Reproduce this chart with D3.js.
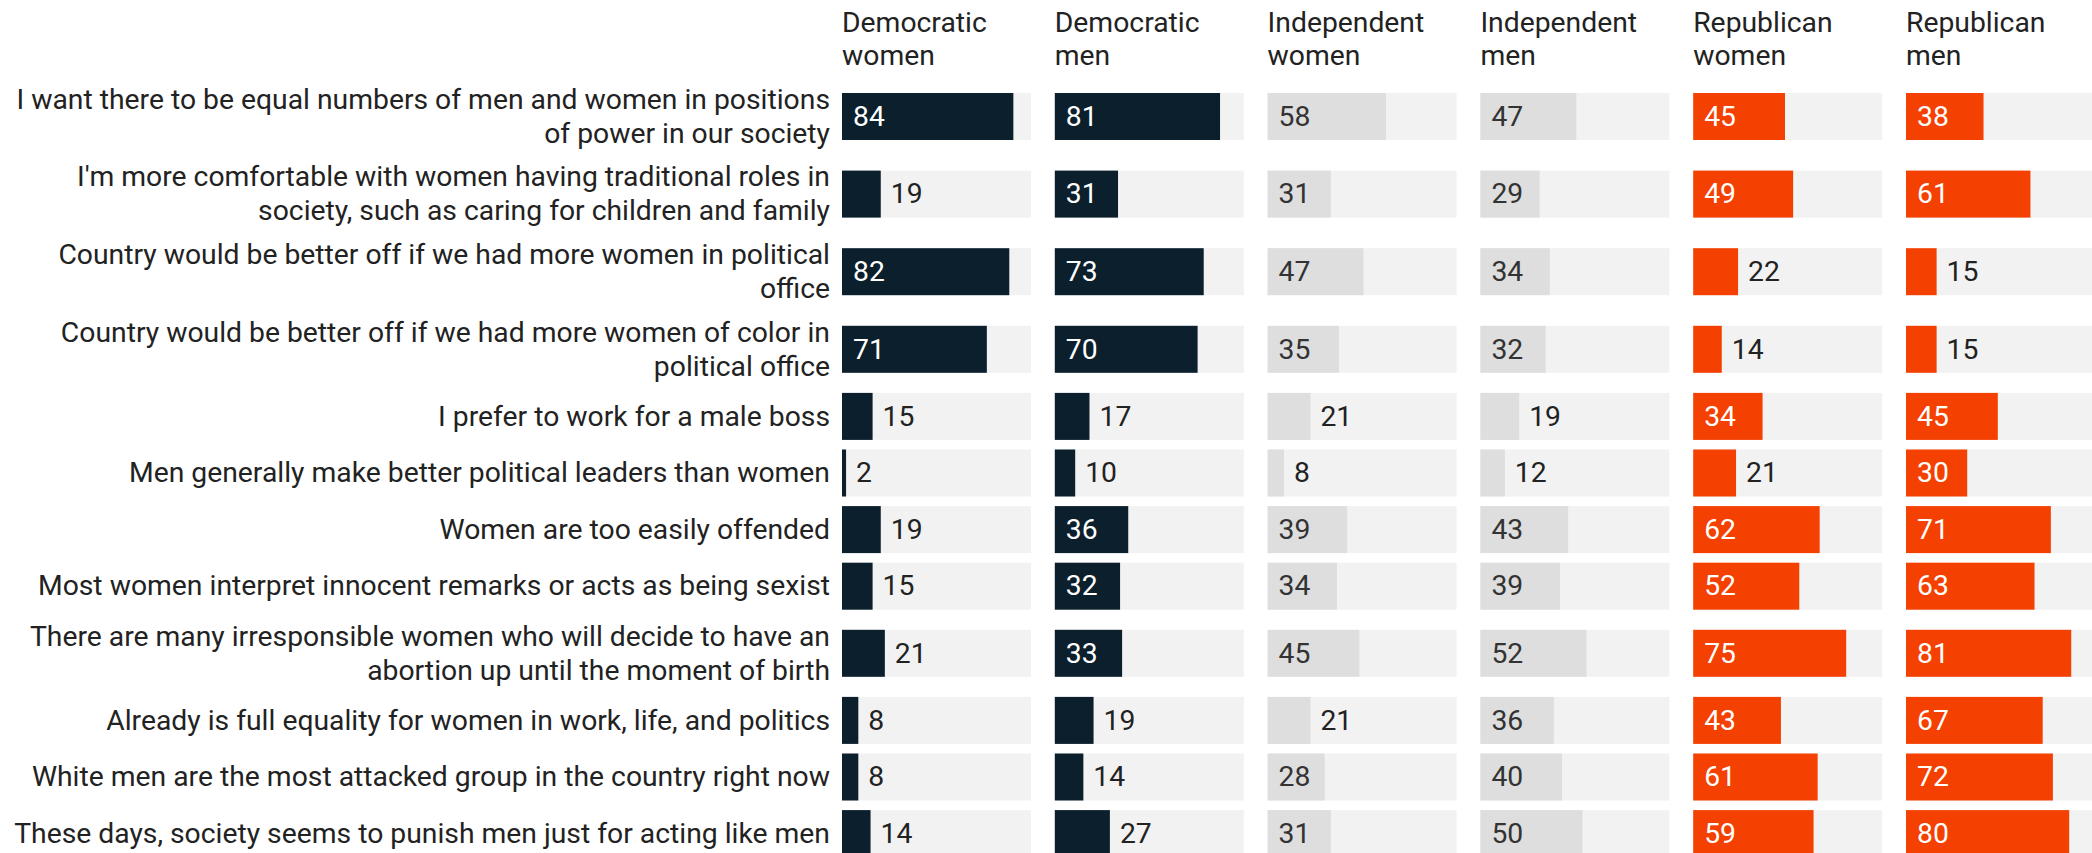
<!DOCTYPE html>
<html>
<head>
<meta charset="utf-8">
<script src="https://cdn.jsdelivr.net/npm/d3@7"></script>
<style>
  html, body { margin: 0; padding: 0; background: #ffffff; }
  svg { display: block; }
  text { font-family: Roboto, "Noto Sans", sans-serif; }
</style>
</head>
<body>
<svg id="chart" width="2092" height="853"></svg>
<script>
// ---- data ----
const statements = [
  ["I want there to be equal numbers of men and women in positions", "of power in our society"],
  ["I'm more comfortable with women having traditional roles in", "society, such as caring for children and family"],
  ["Country would be better off if we had more women in political", "office"],
  ["Country would be better off if we had more women of color in", "political office"],
  ["I prefer to work for a male boss"],
  ["Men generally make better political leaders than women"],
  ["Women are too easily offended"],
  ["Most women interpret innocent remarks or acts as being sexist"],
  ["There are many irresponsible women who will decide to have an", "abortion up until the moment of birth"],
  ["Already is full equality for women in work, life, and politics"],
  ["White men are the most attacked group in the country right now"],
  ["These days, society seems to punish men just for acting like men"]
];

const groupNames = [
  ["Democratic", "women"],
  ["Democratic", "men"],
  ["Independent", "women"],
  ["Independent", "men"],
  ["Republican", "women"],
  ["Republican", "men"]
];

const democraticWomen   = [84, 19, 82, 71, 15, 2, 19, 15, 21, 8, 8, 14];
const democraticMen     = [81, 31, 73, 70, 17, 10, 36, 32, 33, 19, 14, 27];
const independentWomen  = [58, 31, 47, 35, 21, 8, 39, 34, 45, 21, 28, 31];
const independentMen    = [47, 29, 34, 32, 19, 12, 43, 39, 52, 36, 40, 50];
const republicanWomen   = [45, 49, 22, 14, 34, 21, 62, 52, 75, 43, 61, 59];
const republicanMen     = [38, 61, 15, 15, 45, 30, 71, 63, 81, 67, 72, 80];

const seriesValues = [democraticWomen, democraticMen, independentWomen, independentMen, republicanWomen, republicanMen];
const partyOfGroup = ["dem", "dem", "ind", "ind", "rep", "rep"];

// ---- styles ----
const partyFill = { dem: "#0b1f2c", ind: "#dedede", rep: "#f44000" };
const partyInsideText = { dem: "#ffffff", ind: "#333333", rep: "#ffffff" };
const trackFill = "#f2f2f2";
const textColor = "#222222";
const fontSize = 28.3;
const lineH = 34;
const barH = 47;
const rowGap = 9.6;
const firstRowTop = 82.5;
const labelRight = 830;
const colStart = 842;
const colStep = 212.8;
const colPad = 23.8 / 212.8;

const svg = d3.select("#chart");

// columns
const colIdx = d3.range(groupNames.length);
const xCol = d3.scaleBand()
  .domain(colIdx)
  .range([colStart, colStart + colStep * (groupNames.length - colPad)])
  .paddingInner(colPad)
  .paddingOuter(0);
const colW = xCol.bandwidth();

const x = d3.scaleLinear().domain([0, 100]).range([0, 204]);

// rows
const rowHeights = statements.map(s => Math.max(barH, s.length * lineH));
const rowTops = [];
let acc = firstRowTop;
rowHeights.forEach(h => { rowTops.push(acc); acc += h + rowGap; });
const rowCenter = i => rowTops[i] + rowHeights[i] / 2;

// headers
const headers = svg.append("g").selectAll("text")
  .data(groupNames)
  .join("text")
  .attr("x", (d, i) => xCol(i))
  .attr("fill", textColor)
  .attr("font-size", fontSize);
headers.selectAll("tspan")
  .data(d => d)
  .join("tspan")
  .attr("x", function() { return d3.select(this.parentNode).attr("x"); })
  .attr("y", (d, j) => 31.5 + j * 33.5)
  .text(d => d);

// statement labels
const labels = svg.append("g").selectAll("text")
  .data(statements)
  .join("text")
  .attr("text-anchor", "end")
  .attr("fill", textColor)
  .attr("font-size", fontSize);
labels.selectAll("tspan")
  .data((d, i) => d.map((line, j) => ({ line, j, n: d.length, i })))
  .join("tspan")
  .attr("x", labelRight)
  .attr("y", d => rowCenter(d.i) + (d.j - (d.n - 1) / 2) * lineH + 9.2)
  .text(d => d.line);

// bars
colIdx.forEach(c => {
  const party = partyOfGroup[c];
  const g = svg.append("g").attr("transform", `translate(${xCol(c)},0)`);
  const vals = seriesValues[c];
  g.selectAll("rect.track")
    .data(vals)
    .join("rect")
    .attr("class", "track")
    .attr("x", 0)
    .attr("y", (d, i) => rowCenter(i) - barH / 2)
    .attr("width", colW)
    .attr("height", barH)
    .attr("fill", trackFill);
  g.selectAll("rect.bar")
    .data(vals)
    .join("rect")
    .attr("class", "bar")
    .attr("x", 0)
    .attr("y", (d, i) => rowCenter(i) - barH / 2)
    .attr("width", d => x(d))
    .attr("height", barH)
    .attr("fill", partyFill[party]);
  g.selectAll("text.val")
    .data(vals)
    .join("text")
    .attr("class", "val")
    .attr("font-size", fontSize)
    .attr("y", (d, i) => rowCenter(i) + 9.2)
    .text(d => d)
    .each(function(d) {
      const tw = this.getComputedTextLength();
      const inside = x(d) >= tw + 24;
      d3.select(this)
        .attr("x", inside ? 11 : x(d) + 10)
        .attr("fill", inside ? partyInsideText[party] : textColor);
    });
});
</script>
</body>
</html>
